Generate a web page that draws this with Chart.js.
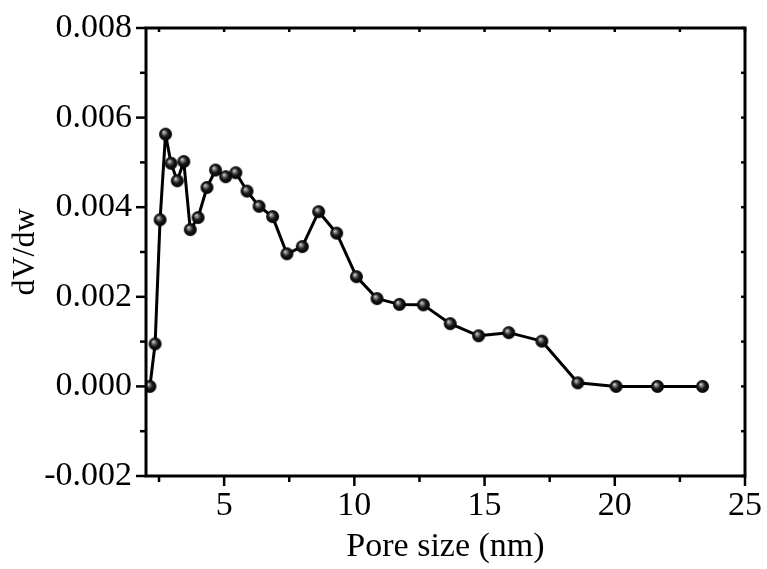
<!DOCTYPE html>
<html>
<head>
<meta charset="utf-8">
<script src="https://cdn.jsdelivr.net/npm/chart.js@4/dist/chart.umd.min.js"></script>
<style>
  html, body { margin: 0; padding: 0; background: #fff; }
  #c { display: block; }
</style>
</head>
<body>
<canvas id="c" width="767" height="569"></canvas>
<script>
const poreSize = [2.15, 2.35, 2.54, 2.75, 2.96, 3.20, 3.45, 3.70, 4.00, 4.34, 4.67, 5.06, 5.45, 5.88, 6.34, 6.86, 7.41, 8.00, 8.63, 9.32, 10.08, 10.87, 11.73, 12.65, 13.68, 14.77, 15.93, 17.20, 18.58, 20.05, 21.64, 23.37];
const dVdw = [0.0000, 0.00095, 0.00372, 0.00563, 0.00498, 0.00459, 0.00502, 0.00350, 0.00377, 0.00444, 0.00483, 0.00468, 0.00477, 0.00436, 0.00402, 0.00379, 0.00296, 0.00312, 0.00390, 0.00342, 0.00245, 0.00196, 0.00183, 0.00182, 0.00140, 0.00113, 0.00120, 0.00101, 0.00008, 0.0000, 0.0000, 0.0000];
const xTicks = [5, 10, 15, 20, 25];
const xMinorTicks = [2.5, 7.5, 12.5, 17.5, 22.5];
const yTicks = [-0.002, 0.000, 0.002, 0.004, 0.006, 0.008];
const yMinorTicks = [-0.001, 0.001, 0.003, 0.005, 0.007];
const xTitle = 'Pore size (nm)';
const yTitle = 'dV/dw';

// 3D ball marker
function makeBall(r) {
  const c = document.createElement('canvas');
  const s = r * 2 + 2;
  c.width = s; c.height = s;
  const g = c.getContext('2d');
  const cx = s / 2, cy = s / 2;
  const grad = g.createRadialGradient(cx - r * 0.3, cy - r * 0.35, 0, cx, cy, r);
  grad.addColorStop(0, '#e8e8e8');
  grad.addColorStop(0.22, '#8a8a8a');
  grad.addColorStop(0.55, '#1a1a1a');
  grad.addColorStop(1, '#000');
  g.beginPath();
  g.arc(cx, cy, r, 0, Math.PI * 2);
  g.fillStyle = grad;
  g.fill();
  return c;
}
const ball = makeBall(6.5);

const FONT = '"Liberation Serif", "Times New Roman", serif';

const framePlugin = {
  id: 'frameTicks',
  afterDraw(chart) {
    const { ctx, chartArea: { left, right, top, bottom }, scales: { x, y } } = chart;
    ctx.save();
    ctx.strokeStyle = '#000';
    ctx.lineWidth = 2.5;
    ctx.lineCap = 'butt';
    const line = (x1, y1, x2, y2) => { ctx.beginPath(); ctx.moveTo(x1, y1); ctx.lineTo(x2, y2); ctx.stroke(); };
    // bottom ticks (outward)
    xTicks.forEach(v => { const px = x.getPixelForValue(v); line(px, bottom, px, bottom + 10); });
    xMinorTicks.forEach(v => { const px = x.getPixelForValue(v); line(px, bottom, px, bottom + 6); });
    // top ticks (inward, small)
    xTicks.concat(xMinorTicks).forEach(v => { const px = x.getPixelForValue(v); line(px, top, px, top + 4); });
    // left ticks (outward)
    yTicks.forEach(v => { const py = y.getPixelForValue(v); line(left, py, left - 10, py); });
    yMinorTicks.forEach(v => { const py = y.getPixelForValue(v); line(left, py, left - 6, py); });
    // right ticks (small)
    yTicks.concat(yMinorTicks).forEach(v => { const py = y.getPixelForValue(v); line(right, py, right - 4, py); });
    // frame
    ctx.lineWidth = 3;
    ctx.strokeRect(left, top, right - left, bottom - top);
    ctx.restore();
  }
};

new Chart(document.getElementById('c'), {
  type: 'line',
  data: {
    datasets: [{
      data: poreSize.map((v, i) => ({ x: v, y: dVdw[i] })),
      borderColor: '#000',
      borderWidth: 3,
      borderJoinStyle: 'round',
      tension: 0,
      pointStyle: ball,
      pointRadius: 6.5,
      pointHoverRadius: 6.5,
      fill: false
    }]
  },
  options: {
    responsive: false,
    animation: false,
    devicePixelRatio: 1,
    layout: { padding: { top: 28, right: 22, left: 0, bottom: 0 } },
    plugins: { legend: { display: false }, tooltip: { enabled: false } },
    scales: {
      x: {
        type: 'linear',
        min: 2,
        max: 25,
        afterBuildTicks: s => { s.ticks = xTicks.map(v => ({ value: v })); },
        afterFit: s => { s.height = 93; s.paddingLeft = 0; s.paddingRight = 0; },
        grid: { display: false, drawTicks: false },
        border: { display: false },
        ticks: { color: '#000', font: { family: FONT, size: 34 }, padding: 10, maxRotation: 0, autoSkip: false },
        title: { display: true, text: xTitle, color: '#000', font: { family: FONT, size: 34 }, padding: { top: 0, bottom: 2 } }
      },
      y: {
        type: 'linear',
        min: -0.002,
        max: 0.008,
        afterBuildTicks: s => { s.ticks = yTicks.map(v => ({ value: v })); },
        afterFit: s => { s.width = 146; s.paddingTop = 0; s.paddingBottom = 0; },
        grid: { display: false, drawTicks: false },
        border: { display: false },
        ticks: { color: '#000', font: { family: FONT, size: 34 }, padding: 14, callback: v => Number(v).toFixed(3) },
        title: { display: true, text: yTitle, color: '#000', font: { family: FONT, size: 32 }, padding: { top: 6, bottom: 0 } }
      }
    }
  },
  plugins: [framePlugin]
});
</script>
</body>
</html>
